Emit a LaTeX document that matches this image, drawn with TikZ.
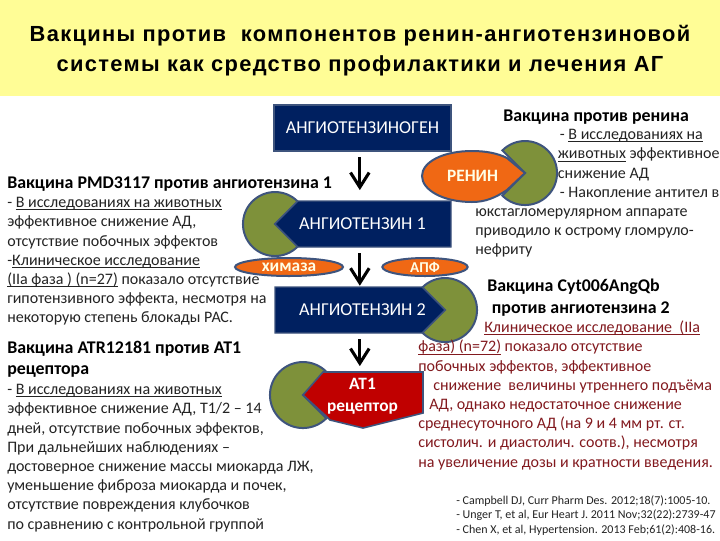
\documentclass[tikz,border=0pt]{standalone}
\usepackage{fontspec}
\setmainfont{Carlito}
\newfontfamily\titlefont[LetterSpace=6]{Liberation Sans}
\usetikzlibrary{arrows.meta,shapes.geometric}
\definecolor{mynavy}{RGB}{0,32,96}
\definecolor{myedge}{RGB}{62,84,125}
\definecolor{mygreen}{RGB}{126,145,58}
\definecolor{myorange}{RGB}{240,104,20}
\definecolor{myred}{RGB}{192,0,0}
\definecolor{myyellow}{RGB}{255,253,150}
\definecolor{mytext}{RGB}{35,35,35}
\definecolor{mydarkred}{RGB}{130,25,30}
\newcommand{\ulin}[1]{\underline{\smash{#1}}}
\tikzset{
  blocktext/.style={anchor=north west,align=left,inner sep=0pt,text=mytext,font=\fontsize{12}{14.4}\selectfont},
  headtext/.style={anchor=north west,align=left,inner sep=0pt,text=black,font=\fontsize{13.4}{15.4}\selectfont\bfseries},
  boxlabel/.style={inner sep=0pt,text=white,font=\fontsize{13.6}{16.5}\selectfont,align=center,minimum width=132.75pt,minimum height=34.5pt},
  enzymelabel/.style={inner sep=0pt,text=white!90!yellow,font=\fontsize{13}{14}\selectfont\bfseries},
  pacman/.style={draw=myedge,fill=mygreen,line width=1.5pt},
  enzyme/.style={draw=myedge,fill=myorange,line width=1.5pt},
  flowarrow/.style={draw=black,line width=2.3pt,-{Straight Barb[length=11pt,width=14pt,line width=2.3pt]},shorten <=4.5pt},
}
\begin{document}
\begin{tikzpicture}[x=0.75pt,y=-0.75pt]
  \clip (0,0) rectangle (720,540);
  \fill[white] (0,0) rectangle (720,540);
  % title band
  \fill[myyellow] (0,0) rectangle (720,96);
  \node[inner sep=0pt,align=center,font=\titlefont\fontsize{16.4}{22.5}\selectfont\bfseries] (title) at (360,50.5)
    {Вакцины против\ \ компонентов ренин-ангиотензиновой\\системы как средство профилактики и лечения АГ};

  % pacman shapes
  \draw[pacman] (275,224) -- (297.6,201.4) arc (-45:-315:32) -- cycle;
  \draw[pacman] (303,395) -- (326.3,371.7) arc (-45:-315:33) -- cycle;
  \draw[pacman] (445,310) -- (422.4,287.4) arc (-135:135:32) -- cycle;
  \draw[pacman] (525,173) -- (502.4,150.4) arc (-135:135:32) -- cycle;

  % substrates
  \draw[fill=mynavy,draw=myedge,line width=1pt] (274,105) rectangle (451,151);
  \node[boxlabel] (agen) at (362.5,128) {АНГИОТЕНЗИНОГЕН};
  \draw[fill=mynavy,draw=myedge,line width=1pt] (451,201) -- (298,201) -- (275,224) -- (298,247) -- (451,247) -- cycle;
  \node[boxlabel] (ang1) at (362.5,224) {АНГИОТЕНЗИН 1};
  \draw[fill=mynavy,draw=myedge,line width=1pt] (275,287) -- (422,287) -- (445,310) -- (422,333) -- (275,333) -- cycle;
  \node[boxlabel] (ang2) at (362.5,310) {АНГИОТЕНЗИН 2};

  % receptor
  \draw[fill=myred,draw=myedge,line width=1.2pt] (303,395) -- (323,372) -- (423,372) -- (423,413)
    -- (363,428) -- (330,420) -- (326,416) -- cycle;
  \node[boxlabel,font=\fontsize{13}{16.5}\selectfont\bfseries] (at1) at (362.5,396) {АТ1\\рецептор};

  % enzymes
  \draw[enzyme] (525,173) -- (507,190) .. controls (495,198) and (485,202) .. (472,202)
    .. controls (443,202) and (422,190) .. (422,176) .. controls (422,162) and (443,151) .. (472,151)
    .. controls (485,151) and (497,153) .. (507,158) -- cycle;
  \node[enzymelabel] (renin) at (472.5,176) {РЕНИН};
  \node[enzyme,ellipse,minimum width=81pt,minimum height=13.5pt,inner sep=0pt] (chym) at (289,267) {};
  \node[enzymelabel] (chymtext) at (289,267) {химаза};
  \node[enzyme,ellipse,minimum width=64pt,minimum height=13.5pt,inner sep=0pt] (ace) at (425,267) {};
  \node[enzymelabel,font=\fontsize{11.3}{14}\selectfont\bfseries] (acetext) at (425,267) {АПФ};

  % cascade
  \draw[flowarrow,shorten >=8pt] ([xshift=-2pt]agen.south) -- ([xshift=-2pt]ang1.north);
  \draw[flowarrow,shorten >=0.75pt] ([xshift=-2pt]ang1.south) -- ([xshift=-2pt]ang2.north);
  \draw[flowarrow,shorten >=5pt] ([xshift=-2pt]ang2.south) -- ([xshift=-2pt]at1.north);

  % left column
  \node[headtext] (pmdhead) at (7,177) {Вакцина PMD3117 против ангиотензина 1};
  \node[blocktext] (pmdtext) at (7,194) {\strut- \ulin{В исследованиях на животных}\\
    эффективное снижение АД,\\
    отсутствие побочных эффектов\\
    -\ulin{Клиническое исследование}\\
    \ulin{(IIa фаза ) (n=27)} показало отсутствие\\
    гипотензивного эффекта, несмотря на\\
    некоторую степень блокады РАС.};
  \node[headtext] (atrhead) at (7,341) {Вакцина ATR12181 против АТ1\\рецептора};
  \node[blocktext] (atrtext) at (7,381) {\strut- \ulin{В исследованиях на животных}\\
    эффективное снижение АД, Т1/2 – 14\\
    дней, отсутствие побочных эффектов,\\
    При дальнейших наблюдениях –\\
    достоверное снижение массы миокарда ЛЖ,\\
    уменьшение фиброза миокарда и почек,\\
    отсутствие повреждения клубочков\\
    по сравнению с контрольной группой};

  % right column
  \node[headtext] (renhead) at (503,110) {Вакцина против ренина};
  \node[blocktext] (rentext) at (475,126) {\strut\hspace*{63.5pt}- \ulin{В исследованиях на}\\
    \hspace*{62pt}\ulin{животных} эффективное\\
    \hspace*{62pt}снижение АД\\
    \hspace*{63.5pt}- Накопление антител в\\
    юкстагломерулярном аппарате\\
    приводило к острому гломруло-\\
    нефриту};
  \node[headtext,font=\fontsize{13.4}{16.5}\selectfont\bfseries] (cythead) at (487,279) {Вакцина Cyt006AngQb\\\hspace*{3.5pt}против ангиотензина 2};
  \node[blocktext,text=mydarkred] (cyttext) at (418,319) {\strut\hspace*{49.5pt}\ulin{Клиническое исследование\ \ (IIa}\\
    \ulin{фаза) (n=72)} показало отсутствие\\
    побочных эффектов, эффективное\\
    \hspace*{11.25pt}снижение\ \ величины утреннего подъёма\\
    \hspace*{8.25pt}АД, однако недостаточное снижение\\
    среднесуточного АД (на 9 и 4 мм рт. ст.\\
    систолич. и диастолич. соотв.), несмотря\\
    на увеличение дозы и кратности введения.};
  \node[anchor=north west,align=left,inner sep=0pt,text=mytext,font=\fontsize{9}{10.9}\selectfont] (refs) at (456,495)
    {- Campbell DJ, Curr Pharm Des. 2012;18(7):1005-10.\\
     - Unger T, et al, Eur Heart J. 2011 Nov;32(22):2739-47\\
     - Chen X, et al, Hypertension. 2013 Feb;61(2):408-16.};
\end{tikzpicture}
\end{document}
